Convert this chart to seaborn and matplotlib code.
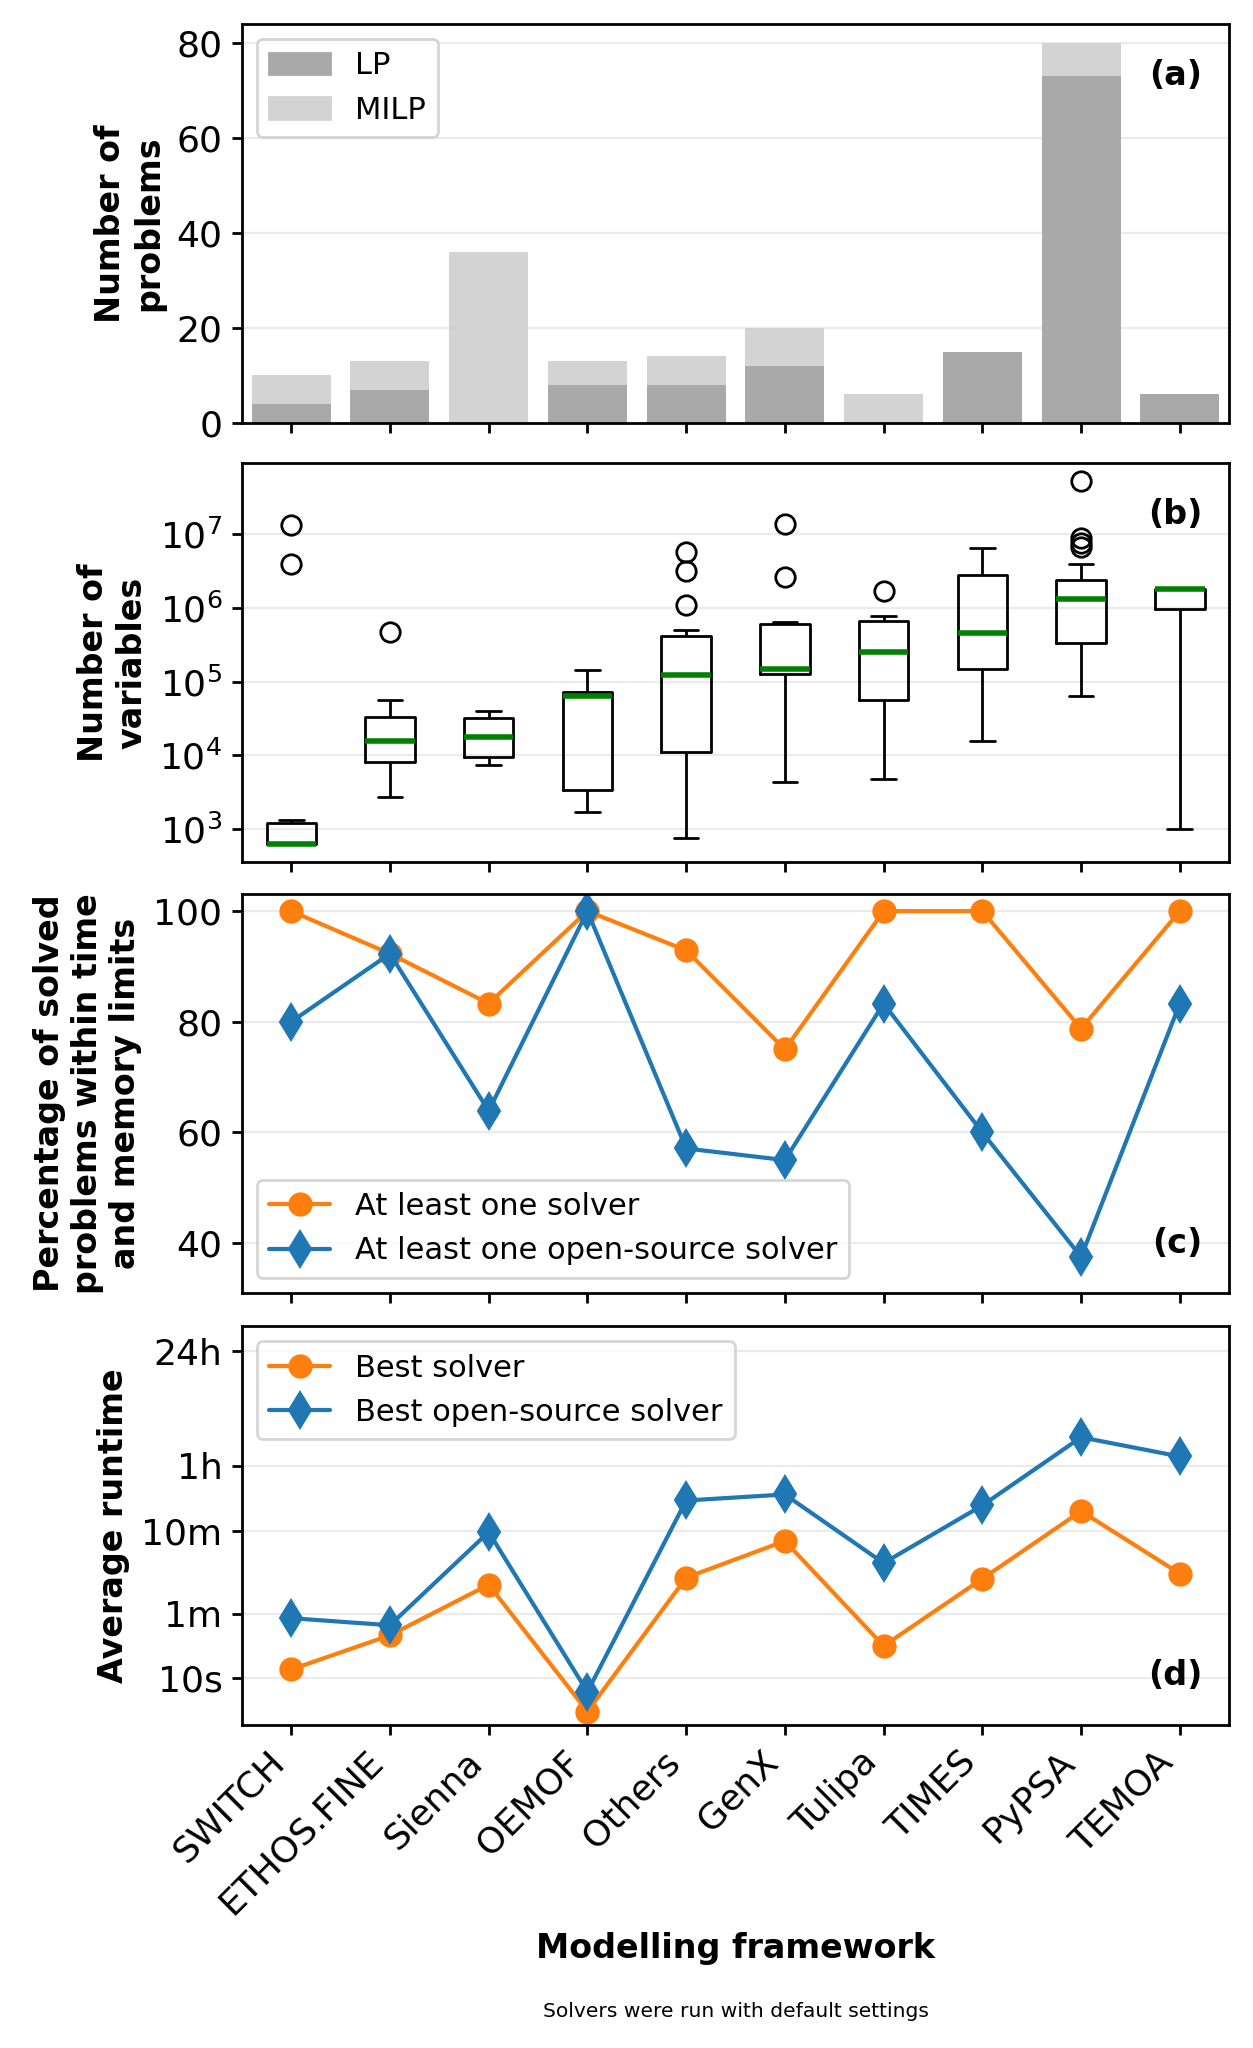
import numpy as np
import pandas as pd
import matplotlib
matplotlib.use("Agg")
import matplotlib.pyplot as plt
import seaborn as sns
from matplotlib.patches import Patch
from matplotlib.ticker import NullLocator

frameworks = ["SWITCH", "ETHOS.FINE", "Sienna", "OEMOF", "Others",
              "GenX", "Tulipa", "TIMES", "PyPSA", "TEMOA"]

# (a) number of problems per framework
lp_count = [4, 7, 0, 8, 8, 12, 0, 15, 73, 6]
milp_count = [6, 6, 36, 5, 6, 8, 6, 0, 7, 0]

# (b) number of variables per problem
vars_switch = [630, 630, 630, 630, 630, 630, 880, 1320, 3.97e6, 1.34e7]
vars_ethos = [2.7e3, 5e3, 8.1e3, 1.2e4, 1.55e4, 2.4e4, 3.3e4, 5.6e4, 4.7e5]
vars_sienna = [7.5e3, 9.5e3, 1.76e4, 3.18e4, 4.0e4]
vars_oemof = [1.7e3, 3.4e3, 6.3e4, 7.2e4, 1.42e5]
vars_others = [750, 2e3, 5e3, 1.0e4, 1.44e4, 4e4, 1.16e5, 1.3e5, 1.35e5,
               1.4e5, 5.0e5, 1.1e6, 3.16e6, 5.68e6]
vars_genx = [4.3e3, 3e4, 8e4, 1.27e5, 1.35e5, 1.42e5, 1.49e5, 3e5, 4.5e5,
             5.94e5, 6.45e5, 2.58e6, 1.37e7]
vars_tulipa = [4.8e3, 1.733e4, 1.72e5, 3.3e5, 7.7e5, 1.7e6]
vars_times = [1.56e4, 1.5e5, 4.5e5, 2.75e6, 6.4e6]
vars_pypsa = [6.3e4, 1e5, 1.5e5, 2e5, 2.6e5, 3.3e5, 5e5, 7e5, 9e5, 1.1e6,
              1.31e6, 1.5e6, 1.7e6, 1.9e6, 2.1e6, 2.4e6, 3.94e6,
              6.6e6, 7.6e6, 8.8e6, 5.2e7]
vars_temoa = [1e3, 9.6e5, 1.8e6, 1.8e6, 1.8e6]

# (c) percentage solved
solved_any = [100, 92.3, 83.3, 100, 92.9, 75.0, 100, 100, 78.75, 100]
solved_open = [80.0, 92.3, 63.9, 100, 57.1, 55.0, 83.3, 60.0, 37.5, 83.3]

# (d) average runtime in seconds
runtime_best = [12.8, 33, 134, 4.0, 163, 449, 24.6, 158, 1028, 182]
runtime_open = [53, 43.6, 576, 6.9, 1380, 1630, 244, 1203, 7940, 4670]

runtime_ticks = [10, 60, 600, 3600, 86400]
runtime_ticklabels = ["10s", "1m", "10m", "1h", "24h"]

sns.set_theme(context="notebook", style="white")
plt.rcParams.update({
    "axes.edgecolor": "black",
    "axes.linewidth": 1.0,
    "xtick.bottom": True,
    "ytick.left": True,
    "xtick.major.size": 3.5,
    "ytick.major.size": 3.5,
    "xtick.major.width": 1.0,
    "ytick.major.width": 1.0,
    "xtick.labelsize": 13,
    "ytick.labelsize": 13,
    "text.color": "black",
    "axes.labelcolor": "black",
    "xtick.color": "black",
    "ytick.color": "black",
    "grid.color": "#ebebeb",
    "grid.linewidth": 0.8,
    "font.family": ["DejaVu Sans"],
})

fig, axes = plt.subplots(4, 1, figsize=(6.265, 10.24), dpi=200)
# panel boxes (left, bottom, width, height) in figure fractions
left, width, height = 0.193, 0.788, 0.1948
for ax, bottom in zip(axes, [0.7935, 0.5791, 0.3687, 0.1577]):
    ax.set_position([left, bottom, width, height])
x = np.arange(len(frameworks))

# (a) stacked bars
ax = axes[0]
totals = [l + m for l, m in zip(lp_count, milp_count)]
sns.barplot(x=frameworks, y=totals, color="lightgray", saturation=1, width=0.8,
            linewidth=0, ax=ax)
sns.barplot(x=frameworks, y=lp_count, color="darkgray", saturation=1, width=0.8,
            linewidth=0, ax=ax)
ax.legend(handles=[Patch(color="darkgray", label="LP"), Patch(color="lightgray", label="MILP")],
          loc="upper left")
ax.set_ylabel("Number of\nproblems", fontweight="bold")
ax.set_yticks([0, 20, 40, 60, 80])

# (b) boxplots of problem size
ax = axes[1]
var_lists = [vars_switch, vars_ethos, vars_sienna, vars_oemof, vars_others,
             vars_genx, vars_tulipa, vars_times, vars_pypsa, vars_temoa]
var_df = pd.DataFrame({
    "framework": np.repeat(frameworks, [len(v) for v in var_lists]),
    "variables": np.concatenate(var_lists),
})
sns.boxplot(data=var_df, x="framework", y="variables", order=frameworks,
            fill=False, color="black", width=0.5, linewidth=1.0,
            medianprops={"color": "green", "linewidth": 2},
            flierprops={"marker": "o", "markersize": 7, "markerfacecolor": "none",
                        "markeredgecolor": "black", "markeredgewidth": 1.0},
            ax=ax)
ax.set_yscale("log")
ax.yaxis.set_minor_locator(NullLocator())
ax.set_ylabel("Number of\nvariables", fontweight="bold")

# (c) percentage solved
ax = axes[2]
sns.lineplot(x=x, y=solved_any, marker="o", color="tab:orange", markersize=8,
             markeredgecolor="tab:orange", label="At least one solver", ax=ax)
sns.lineplot(x=x, y=solved_open, marker="d", color="tab:blue", markersize=9,
             markeredgecolor="tab:blue", label="At least one open-source solver", ax=ax)
ax.set_ylim(31, 103.1)
ax.set_yticks([40, 60, 80, 100])
ax.legend(loc="lower left")
ax.set_ylabel("Percentage of solved\nproblems within time\nand memory limits", fontweight="bold")

# (d) runtime
ax = axes[3]
ax.set_yscale("log")
sns.lineplot(x=x, y=runtime_best, marker="o", color="tab:orange", markersize=8,
             markeredgecolor="tab:orange", label="Best solver", ax=ax)
sns.lineplot(x=x, y=runtime_open, marker="d", color="tab:blue", markersize=9,
             markeredgecolor="tab:blue", label="Best open-source solver", ax=ax)
ax.set_ylim(2.75, 172800)
ax.set_yticks(runtime_ticks)
ax.set_yticklabels(runtime_ticklabels)
ax.yaxis.set_minor_locator(NullLocator())
ax.legend(loc="upper left")
ax.set_ylabel("Average runtime", fontweight="bold")

panel_tags = ["(a)", "(b)", "(c)", "(d)"]
tag_y = [0.87, 0.87, 0.125, 0.125]
for ax, tag, ty in zip(axes, panel_tags, tag_y):
    ax.set_xlim(-0.5, len(frameworks) - 0.5)
    ax.set_xticks(x)
    ax.set_xlabel("")
    ax.yaxis.grid(True)
    ax.xaxis.grid(False)
    ax.set_axisbelow(True)
    for s in ax.spines.values():
        s.set_visible(True)
    ax.text(0.973, ty, tag, transform=ax.transAxes, ha="right", va="center",
            fontsize=12, fontweight="bold")

for ax in axes[:3]:
    ax.tick_params(labelbottom=False)

axes[3].set_xticklabels(frameworks, rotation=45, ha="right")
axes[3].set_xlabel("Modelling framework", fontweight="bold")

fig.text(0.587, 0.0176, "Solvers were run with default settings", ha="center", va="center", fontsize=7.3)

plt.savefig("out.png", dpi=200)
